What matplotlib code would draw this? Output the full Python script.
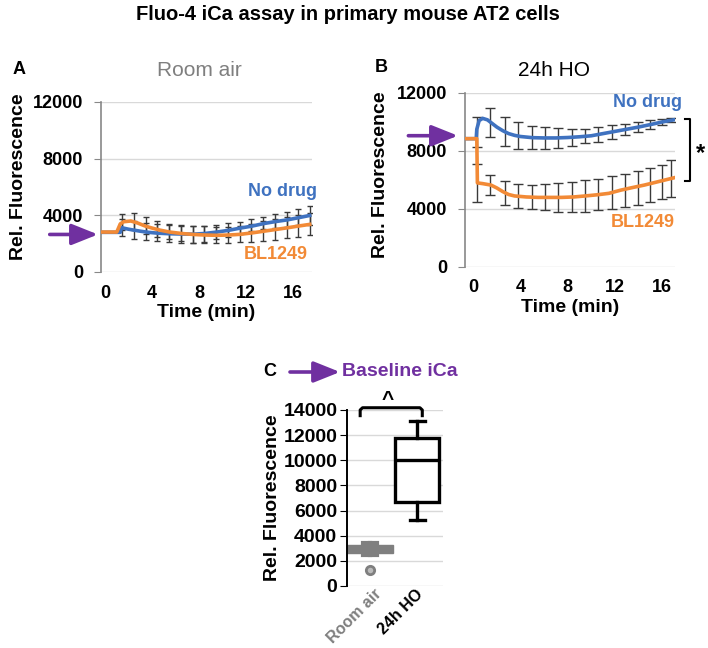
import matplotlib
matplotlib.use("Agg")
import matplotlib.pyplot as plt
from matplotlib.transforms import ScaledTranslation

plt.rcParams['font.family'] = ['Liberation Sans', 'DejaVu Sans']

# ---------------- data ----------------
# Panel A (Room air)
a_blue_t = [-0.3, 1.3, 1.4, 2.0, 2.5, 3.0, 3.7, 4.5, 5.5, 6.5, 7.5, 8.5, 9.5, 10.5, 11.5, 12.5, 13.5, 14.5, 15.5, 16.5, 17.4]
a_blue_y = [2800, 2800, 3130, 3020, 2950, 2880, 2800, 2740, 2700, 2680, 2670, 2720, 2820, 2940, 3100, 3240, 3420, 3560, 3680, 3840, 3990]
a_orange_t = [-0.3, 1.0, 1.3, 1.6, 2.2, 2.8, 3.4, 4.0, 4.7, 5.5, 6.5, 7.5, 8.5, 9.5, 10.5, 11.5, 12.5, 13.5, 14.5, 15.5, 16.5, 17.4]
a_orange_y = [2820, 2820, 3400, 3550, 3600, 3450, 3250, 3100, 2950, 2820, 2720, 2650, 2610, 2590, 2610, 2660, 2760, 2880, 3000, 3120, 3250, 3360]
a_err_t = [1.45, 2.45, 3.45, 4.45, 5.45, 6.45, 7.45, 8.45, 9.45, 10.45, 11.45, 12.45, 13.45, 14.45, 15.45, 16.45, 17.45]
a_blue_m = [3130, 2965, 2824, 2753, 2706, 2682, 2659, 2682, 2800, 2965, 3106, 3294, 3459, 3600, 3718, 3859, 4000]
a_blue_e = [600, 650, 600, 600, 600, 600, 600, 560, 500, 480, 450, 430, 450, 480, 520, 560, 660]
a_orange_m = [3550, 3600, 3294, 3059, 2871, 2776, 2682, 2635, 2588, 2612, 2659, 2776, 2894, 3012, 3129, 3247, 3365]
a_orange_e = [550, 600, 600, 560, 520, 560, 600, 610, 560, 540, 560, 630, 700, 740, 750, 750, 770]

# Panel B (24h HO)
b_blue_t = [-0.7, 0.25, 0.3, 0.5, 0.8, 1.2, 1.6, 2.0, 2.5, 3.0, 3.5, 4.0, 5.0, 6.0, 7.0, 8.0, 9.0, 10.0, 11.0, 12.0, 13.0, 14.0, 15.0, 16.0, 17.0]
b_blue_y = [8850, 8850, 9500, 10100, 10250, 10150, 9900, 9650, 9400, 9200, 9080, 9000, 8920, 8900, 8900, 8930, 8980, 9050, 9200, 9350, 9500, 9650, 9820, 10000, 10150]
b_orange_t = [-0.7, 0.3, 0.35, 0.8, 1.5, 2.0, 2.5, 3.0, 3.5, 4.5, 5.5, 6.5, 7.5, 8.5, 9.5, 10.5, 11.5, 12.5, 13.5, 14.5, 15.5, 16.5, 17.0]
b_orange_y = [8850, 8850, 5800, 5750, 5650, 5450, 5200, 5000, 4900, 4830, 4800, 4800, 4800, 4830, 4900, 4980, 5080, 5300, 5480, 5650, 5850, 6050, 6150]
b_err_t = [0.28, 1.42, 2.69, 3.82, 4.96, 6.09, 7.22, 8.35, 9.48, 10.6, 11.75, 12.9, 14.0, 15.0, 16.0, 16.8]
b_blue_m = [9300, 9950, 9350, 9050, 8920, 8900, 8900, 8950, 9030, 9130, 9300, 9480, 9650, 9820, 10000, 10130]
b_blue_e = [1050, 1000, 1000, 920, 800, 750, 670, 575, 480, 520, 460, 400, 345, 320, 230, 150]
b_orange_m = [5780, 5650, 5100, 4900, 4830, 4800, 4800, 4830, 4900, 5000, 5120, 5270, 5450, 5650, 5850, 6100]
b_orange_e = [1300, 700, 850, 820, 830, 900, 975, 1050, 1100, 1100, 1150, 1150, 1150, 1170, 1170, 1250]

# Panel C (baseline iCa box plot)
c_groups = ['Room air', '24h HO']
c_whislo = [2500, 5240]
c_q1 = [2600, 6700]
c_med = [2950, 10000]
c_q3 = [3280, 11750]
c_whishi = [3430, 13150]
c_fliers = [[1250], []]

# ---------------- style ----------------
BLUE = '#3F72C0'
ORANGE = '#F28A36'
PURPLE = '#7030A0'
GRAY = '#7F7F7F'
GRID = '#D9D9D9'
ERR = '#3A3A3A'
FS = 13
LFS = 14

fig = plt.figure(figsize=(7.08, 6.48), dpi=100)

def px_axes(l, t, r, b):
    return fig.add_axes([l / 708, 1 - b / 648, (r - l) / 708, (b - t) / 648])

fig.text(348 / 708, 1 - 15 / 648, 'Fluo-4 iCa assay in primary mouse AT2 cells',
         ha='center', va='center', fontsize=14.5, fontweight='bold')

def style_line_axes(ax, xlim, ylim, yticks):
    ax.set_xlim(*xlim)
    ax.set_ylim(*ylim)
    ax.set_yticks(yticks)
    ax.set_xticks([0, 4, 8, 12, 16])
    ax.grid(axis='y', color=GRID, lw=1)
    ax.set_axisbelow(True)
    for s in ['top', 'right', 'bottom']:
        ax.spines[s].set_visible(False)
    ax.spines['left'].set_color('#888888')
    ax.spines['left'].set_linewidth(1.2)
    ax.tick_params(axis='y', length=5, color='#888888', labelsize=FS, pad=8)
    ax.tick_params(axis='x', length=0, labelsize=FS, pad=9)
    for lab in ax.get_xticklabels() + ax.get_yticklabels():
        lab.set_fontweight('bold')
    ax.set_xlabel('Time (min)', fontsize=LFS, fontweight='bold', labelpad=2)

ARROW = dict(arrowstyle='-|>,head_length=0.8,head_width=0.32', color=PURPLE, lw=2.6,
             mutation_scale=20, shrinkA=0, shrinkB=0)

# ---- Panel A ----
axA = px_axes(101, 102, 312, 272)
axA.errorbar(a_err_t, a_blue_m, yerr=a_blue_e, fmt='none', ecolor=ERR, elinewidth=1, capsize=2.5, capthick=1, zorder=2)
axA.errorbar(a_err_t, a_orange_m, yerr=a_orange_e, fmt='none', ecolor=ERR, elinewidth=1, capsize=2.5, capthick=1, zorder=2)
axA.plot(a_blue_t, a_blue_y, color=BLUE, lw=2.6, zorder=3)
axA.plot(a_orange_t, a_orange_y, color=ORANGE, lw=2.6, zorder=4)
style_line_axes(axA, (-0.34, 17.6), (0, 12000), [0, 4000, 8000, 12000])
axA.set_ylabel('Rel. Fluorescence', fontsize=LFS, fontweight='bold')
axA.yaxis.set_label_coords(-0.35, 0.56)
axA.text(15.1, 5650, 'No drug', color=BLUE, fontsize=FS, fontweight='bold', ha='center', va='center')
axA.text(14.5, 1270, 'BL1249', color=ORANGE, fontsize=FS, fontweight='bold', ha='center', va='center')
axA.annotate('', xy=(-0.6, 2650), xytext=(-4.7, 2650), arrowprops=ARROW, annotation_clip=False)
fig.text(19 / 708, 1 - 70 / 648, 'A', fontsize=FS, fontweight='bold', ha='center', va='center')
fig.text(199 / 708, 1 - 71 / 648, 'Room air', fontsize=15, color=GRAY, ha='center', va='center')

# ---- Panel B ----
axB = px_axes(465, 93, 675, 267)
axB.errorbar(b_err_t, b_blue_m, yerr=b_blue_e, fmt='none', ecolor=ERR, elinewidth=1, capsize=3.5, capthick=1, zorder=2)
axB.errorbar(b_err_t, b_orange_m, yerr=b_orange_e, fmt='none', ecolor=ERR, elinewidth=1, capsize=3.5, capthick=1, zorder=2)
axB.plot(b_blue_t, b_blue_y, color=BLUE, lw=2.6, zorder=3)
axB.plot(b_orange_t, b_orange_y, color=ORANGE, lw=2.6, zorder=4)
style_line_axes(axB, (-0.7, 17.1), (0, 12000), [0, 4000, 8000, 12000])
axB.set_ylabel('Rel. Fluorescence', fontsize=LFS, fontweight='bold')
axB.yaxis.set_label_coords(-0.362, 0.53)
axB.text(14.75, 11330, 'No drug', color=BLUE, fontsize=FS, fontweight='bold', ha='center', va='center')
axB.text(14.4, 3050, 'BL1249', color=ORANGE, fontsize=FS, fontweight='bold', ha='center', va='center')
axB.annotate('', xy=(-1.3, 9055), xytext=(-5.5, 9055), arrowprops=ARROW, annotation_clip=False)
axB.plot([17.95, 18.4, 18.4, 17.95], [10230, 10230, 5950, 5950], color='black', lw=1.5, clip_on=False)
axB.text(19.3, 7800, '*', fontsize=17, fontweight='bold', ha='center', va='center', clip_on=False)
fig.text(381 / 708, 1 - 68 / 648, 'B', fontsize=FS, fontweight='bold', ha='center', va='center')
fig.text(554 / 708, 1 - 70 / 648, '24h HO', fontsize=15, color='black', ha='center', va='center')

# ---- Panel C ----
axC = px_axes(347, 410, 443, 586)
stats = []
for i in range(len(c_groups)):
    stats.append(dict(label=c_groups[i], whislo=c_whislo[i], q1=c_q1[i], med=c_med[i],
                      q3=c_q3[i], whishi=c_whishi[i], fliers=c_fliers[i]))
axC.bxp([stats[0]], positions=[1], widths=0.98, patch_artist=True, showfliers=True,
        boxprops=dict(facecolor=GRAY, edgecolor=GRAY, lw=1),
        medianprops=dict(color=GRAY, lw=1),
        whiskerprops=dict(color=GRAY, lw=3), capprops=dict(color=GRAY, lw=3), capwidths=0.3,
        flierprops=dict(marker='o', markersize=6, markerfacecolor='#BBBBBB', markeredgecolor=GRAY, markeredgewidth=2))
axC.bxp([stats[1]], positions=[2], widths=0.94, patch_artist=True, showfliers=False,
        boxprops=dict(facecolor='white', edgecolor='black', lw=2.4),
        medianprops=dict(color='black', lw=2.4),
        whiskerprops=dict(color='black', lw=2.4), capprops=dict(color='black', lw=2.4), capwidths=0.32)
axC.set_xlim(0.51, 2.55)
axC.set_ylim(0, 14000)
axC.set_yticks(range(0, 14001, 2000))
axC.set_xticks([1, 2])
axC.set_xticklabels(c_groups)
axC.grid(axis='y', color=GRID, lw=1)
axC.set_axisbelow(True)
for s in ['top', 'right', 'bottom']:
    axC.spines[s].set_visible(False)
axC.spines['left'].set_linewidth(1.4)
axC.tick_params(axis='y', length=5, labelsize=14, pad=2)
axC.tick_params(axis='x', length=0, labelsize=11.5, pad=2)
for lab in axC.get_yticklabels():
    lab.set_fontweight('bold')
xlabs = axC.get_xticklabels()
for lab, col in zip(xlabs, [GRAY, 'black']):
    lab.set_fontweight('bold')
    lab.set_color(col)
    lab.set_rotation(45)
    lab.set_ha('center')
    lab.set_transform(lab.get_transform() + ScaledTranslation(-0.16, 0.02, fig.dpi_scale_trans))
axC.set_ylabel('Rel. Fluorescence', fontsize=LFS, fontweight='bold')
axC.yaxis.set_label_coords(-0.69, 0.5)
axC.plot([0.79, 0.79, 0.84, 2.06, 2.11, 2.11], [13550, 14000, 14180, 14180, 14000, 13550],
         color='black', lw=2.2, clip_on=False, solid_joinstyle='round')
axC.text(1.38, 14800, '^', fontsize=15, fontweight='bold', ha='center', va='center', clip_on=False)

fig.text(270 / 708, 1 - 372 / 648, 'C', fontsize=FS, fontweight='bold', ha='center', va='center')
fig.add_artist(matplotlib.patches.FancyArrowPatch((290 / 708, 1 - 372 / 648), (340 / 708, 1 - 372 / 648),
               transform=fig.transFigure, **ARROW))
fig.text(342 / 708, 1 - 372 / 648, 'Baseline iCa', fontsize=LFS, fontweight='bold', color=PURPLE,
         ha='left', va='center')

fig.savefig('out.png', dpi=100)
